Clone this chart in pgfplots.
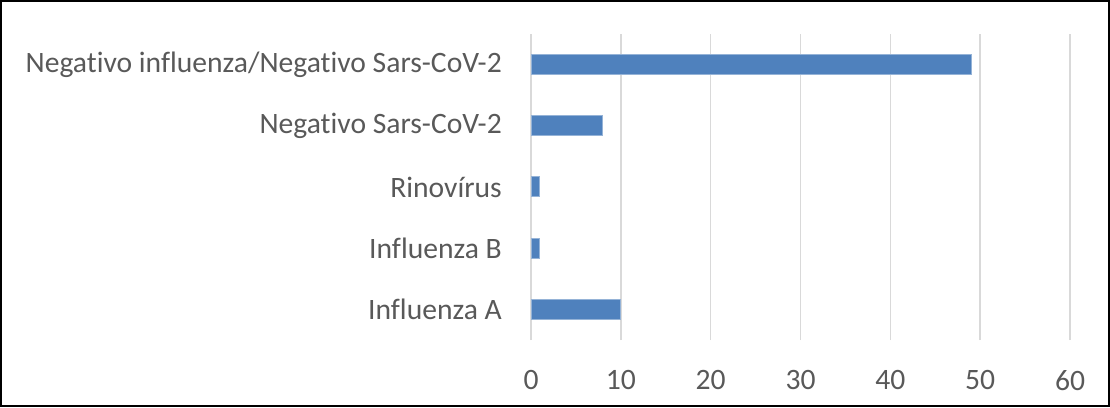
\documentclass[border=0pt]{standalone}
\usepackage{fontspec}
\setmainfont{Carlito}[Ligatures={NoCommon}]
\usepackage{pgfplots}
\pgfplotsset{compat=1.18}
\definecolor{barblue}{HTML}{4F81BD}
\definecolor{gridc}{HTML}{D9D9D9}
\definecolor{txt}{HTML}{595959}
\begin{document}
\begin{tikzpicture}
\useasboundingbox (0pt,0pt) rectangle (1110pt,407pt);
\draw[black, line width=2pt] (1pt,1pt) rectangle (1109pt,406pt);
\begin{axis}[
  at={(531pt,67pt)}, anchor=south west,
  scale only axis, width=539pt, height=306pt,
  xmin=0, xmax=60, ymin=-0.5, ymax=4.5,
  xbar, bar width=20pt,
  xtick={0,10,...,60},
  ytick={0,1,2,3,4},
  yticklabels={Influenza A, Influenza B, Rinovírus, Negativo Sars-CoV-2, Negativo influenza/Negativo Sars-CoV-2},
  axis line style={draw=none},
  major tick length=0pt,
  xmajorgrids, grid style={gridc, line width=1.5pt},
  /pgf/number format/assume math mode=true,
  tick label style={font=\fontsize{29.6}{34}\selectfont, text=txt},
  yticklabel style={anchor=east, inner sep=0pt, xshift=-29pt},
  xticklabel style={anchor=north, inner sep=0pt, yshift=-30pt},
]
\addplot[fill=barblue, draw=barblue!60!white, line width=1pt] coordinates {(10,0) (1,1) (1,2) (8,3) (49,4)};
\end{axis}
\end{tikzpicture}
\end{document}
